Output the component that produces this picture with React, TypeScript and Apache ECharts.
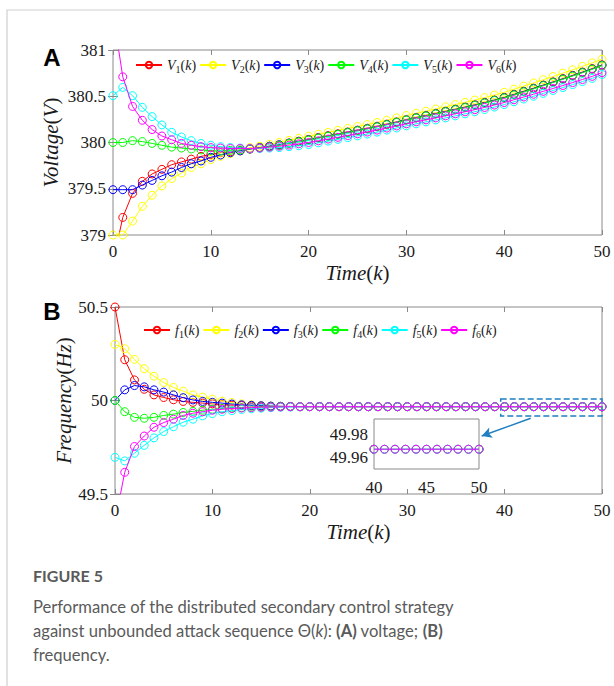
import React, { useEffect, useRef } from "react";
import * as echarts from "echarts";

// ---------- data ----------
const K = Array.from({ length: 51 }, (_, i) => i);
const INSET_K = K.slice(40);

const V_NAMES = ["V1", "V2", "V3", "V4", "V5", "V6"];
const F_NAMES = ["f1", "f2", "f3", "f4", "f5", "f6"];
const COLORS = ["#FF0000", "#FFFF00", "#0000FF", "#00FF00", "#00FFFF", "#FF00FF"];

const V1 = [
  378.7, 379.19, 379.45, 379.58, 379.66, 379.71, 379.76, 379.79, 379.82, 379.85,
  379.87, 379.89, 379.9, 379.91, 379.93, 379.945, 379.96, 379.975, 379.995, 380.015,
  380.034, 380.054, 380.074, 380.094, 380.114, 380.134, 380.154, 380.176, 380.199, 380.224,
  380.249, 380.272, 380.294, 380.316, 380.339, 380.362, 380.385, 380.409, 380.434, 380.461,
  380.489, 380.522, 380.555, 380.588, 380.622, 380.656, 380.691, 380.726, 380.762, 380.799,
  380.839,
];
const V2 = [
  379.0, 379.0, 379.15, 379.31, 379.43, 379.53, 379.61, 379.67, 379.73, 379.77,
  379.815, 379.85, 379.88, 379.91, 379.945, 379.96, 379.98, 380.0, 380.023, 380.045,
  380.068, 380.089, 380.11, 380.131, 380.152, 380.173, 380.194, 380.217, 380.241, 380.266,
  380.292, 380.316, 380.339, 380.362, 380.386, 380.41, 380.434, 380.459, 380.485, 380.513,
  380.542, 380.576, 380.61, 380.644, 380.679, 380.714, 380.75, 380.786, 380.823, 380.861,
  380.9,
];
const V3 = [
  379.49, 379.49, 379.49, 379.54, 379.59, 379.64, 379.68, 379.73, 379.77, 379.8,
  379.84, 379.865, 379.89, 379.91, 379.93, 379.945, 379.96, 379.975, 379.993, 380.011,
  380.03, 380.05, 380.07, 380.09, 380.11, 380.13, 380.15, 380.172, 380.195, 380.22,
  380.245, 380.268, 380.29, 380.312, 380.335, 380.358, 380.381, 380.405, 380.43, 380.457,
  380.485, 380.518, 380.551, 380.584, 380.618, 380.652, 380.687, 380.722, 380.758, 380.795,
  380.835,
];
const V4 = [
  380.0, 380.0, 380.02, 380.01, 379.99, 379.97, 379.95, 379.94, 379.93, 379.92,
  379.91, 379.91, 379.915, 379.92, 379.93, 379.942, 379.955, 379.97, 379.99, 380.008,
  380.027, 380.047, 380.067, 380.087, 380.107, 380.127, 380.147, 380.169, 380.192, 380.217,
  380.242, 380.265, 380.287, 380.309, 380.332, 380.355, 380.378, 380.402, 380.427, 380.454,
  380.482, 380.515, 380.548, 380.581, 380.615, 380.649, 380.684, 380.719, 380.755, 380.792,
  380.832,
];
const V5 = [
  380.506, 380.596, 380.506, 380.38, 380.28, 380.19, 380.11, 380.06, 380.02, 379.99,
  379.97, 379.955, 379.945, 379.94, 379.935, 379.935, 379.94, 379.945, 379.955, 379.965,
  379.978, 379.996, 380.015, 380.034, 380.053, 380.072, 380.091, 380.112, 380.134, 380.157,
  380.18, 380.202, 380.223, 380.244, 380.266, 380.288, 380.31, 380.333, 380.357, 380.383,
  380.41, 380.44, 380.47, 380.5, 380.531, 380.562, 380.594, 380.626, 380.659, 380.693,
  380.735,
];
const V6 = [
  381.4, 380.71, 380.39, 380.24, 380.14, 380.07, 380.03, 379.99, 379.97, 379.955,
  379.945, 379.94, 379.935, 379.935, 379.935, 379.94, 379.95, 379.96, 379.972, 379.986,
  380.0, 380.018, 380.037, 380.056, 380.075, 380.094, 380.113, 380.134, 380.156, 380.179,
  380.202, 380.224, 380.245, 380.266, 380.288, 380.31, 380.332, 380.355, 380.379, 380.405,
  380.432, 380.462, 380.492, 380.522, 380.553, 380.584, 380.616, 380.648, 380.681, 380.715,
  380.755,
];

const F1 = [
  50.5, 50.218, 50.11, 50.06, 50.03, 50.016, 50.004, 49.995, 49.99, 49.986,
  49.982, 49.978, 49.975, 49.973, 49.971, 49.97, 49.969, 49.968, 49.968, 49.967,
  49.967, 49.967, 49.967, 49.967, 49.967, 49.967, 49.967, 49.967, 49.967, 49.967,
  49.967, 49.967, 49.967, 49.967, 49.967, 49.967, 49.967, 49.967, 49.967, 49.967,
  49.967, 49.967, 49.967, 49.967, 49.967, 49.967, 49.967, 49.967, 49.967, 49.967,
  49.967,
];
const F2 = [
  50.3, 50.277, 50.22, 50.17, 50.13, 50.096, 50.07, 50.05, 50.03, 50.018,
  50.007, 49.997, 49.989, 49.982, 49.977, 49.973, 49.97, 49.969, 49.968, 49.967,
  49.967, 49.967, 49.967, 49.967, 49.967, 49.967, 49.967, 49.967, 49.967, 49.967,
  49.967, 49.967, 49.967, 49.967, 49.967, 49.967, 49.967, 49.967, 49.967, 49.967,
  49.967, 49.967, 49.967, 49.967, 49.967, 49.967, 49.967, 49.967, 49.967, 49.967,
  49.967,
];
const F3 = [
  50.0, 50.057, 50.08, 50.073, 50.057, 50.045, 50.03, 50.015, 50.003, 49.995,
  49.99, 49.986, 49.981, 49.977, 49.974, 49.972, 49.97, 49.969, 49.968, 49.967,
  49.967, 49.967, 49.967, 49.967, 49.967, 49.967, 49.967, 49.967, 49.967, 49.967,
  49.967, 49.967, 49.967, 49.967, 49.967, 49.967, 49.967, 49.967, 49.967, 49.967,
  49.967, 49.967, 49.967, 49.967, 49.967, 49.967, 49.967, 49.967, 49.967, 49.967,
  49.967,
];
const F4 = [
  50.0, 49.94, 49.91, 49.905, 49.91, 49.92, 49.927, 49.936, 49.942, 49.948,
  49.953, 49.957, 49.96, 49.962, 49.964, 49.965, 49.966, 49.967, 49.967, 49.967,
  49.967, 49.967, 49.967, 49.967, 49.967, 49.967, 49.967, 49.967, 49.967, 49.967,
  49.967, 49.967, 49.967, 49.967, 49.967, 49.967, 49.967, 49.967, 49.967, 49.967,
  49.967, 49.967, 49.967, 49.967, 49.967, 49.967, 49.967, 49.967, 49.967, 49.967,
  49.967,
];
const F5 = [
  49.696, 49.677, 49.718, 49.76, 49.8, 49.834, 49.86, 49.884, 49.9, 49.918,
  49.93, 49.94, 49.946, 49.952, 49.956, 49.959, 49.962, 49.964, 49.965, 49.966,
  49.967, 49.967, 49.967, 49.967, 49.967, 49.967, 49.967, 49.967, 49.967, 49.967,
  49.967, 49.967, 49.967, 49.967, 49.967, 49.967, 49.967, 49.967, 49.967, 49.967,
  49.967, 49.967, 49.967, 49.967, 49.967, 49.967, 49.967, 49.967, 49.967, 49.967,
  49.967,
];
const F6 = [
  49.35, 49.616, 49.754, 49.81, 49.857, 49.882, 49.9, 49.92, 49.932, 49.94,
  49.948, 49.953, 49.957, 49.96, 49.962, 49.964, 49.965, 49.966, 49.967, 49.967,
  49.967, 49.967, 49.967, 49.967, 49.967, 49.967, 49.967, 49.967, 49.967, 49.967,
  49.967, 49.967, 49.967, 49.967, 49.967, 49.967, 49.967, 49.967, 49.967, 49.967,
  49.967, 49.967, 49.967, 49.967, 49.967, 49.967, 49.967, 49.967, 49.967, 49.967,
  49.967,
];

const V_DATA = [V1, V2, V3, V4, V5, V6];
const F_DATA = [F1, F2, F3, F4, F5, F6];

const V_TICKS = { min: 379, max: 381, interval: 0.5 };
const F_TICKS = { min: 49.5, max: 50.5, interval: 0.5 };
const K_TICKS = { min: 0, max: 50, interval: 10 };
const INSET_X = { min: 40, max: 50, interval: 5 };
const INSET_Y = { min: 49.95, max: 49.993, labels: [49.96, 49.98] };

// zoom box and arrow (data coordinates of panel B)
const ZOOM_BOX = [[39.6, 50.008], [50, 49.917]];
const ARROW = [[42.68, 49.905], [37.65, 49.81]];

// ---------- styling ----------
const AX = "#8a8a8a";
const SERIF = "'Liberation Serif', 'Times New Roman', serif";
const TXT = "#1a1a1a";
const ANNOT = "#1f7fc0";
const CAP = "#5a5a5a";

const richMath = {
  i: { fontFamily: SERIF, fontStyle: "italic", fontSize: 21, color: TXT },
  n: { fontFamily: SERIF, fontStyle: "normal", fontSize: 21, color: TXT },
};
const richLegend = {
  i: { fontFamily: SERIF, fontStyle: "italic", fontSize: 14, color: TXT, lineHeight: 18 },
  n: { fontFamily: SERIF, fontStyle: "normal", fontSize: 14, color: TXT, lineHeight: 18 },
  s: { fontFamily: SERIF, fontStyle: "normal", fontSize: 10, color: TXT, lineHeight: 10, verticalAlign: "bottom" },
};
const tickLabel = { fontFamily: SERIF, fontSize: 17, color: TXT };

function mainX(gridIndex: number) {
  return [
    {
      type: "value", gridIndex, ...K_TICKS,
      axisLine: { show: false },
      axisTick: { show: true, inside: true, length: 5, lineStyle: { color: AX } },
      axisLabel: { ...tickLabel, margin: 8 },
      splitLine: { show: false },
      name: "{i|Time}{n|(}{i|k}{n|)}",
      nameLocation: "middle", nameGap: 27, nameMoveOverlap: false,
      nameTextStyle: { fontFamily: SERIF, fontSize: 21, rich: richMath },
    },
    {
      type: "value", gridIndex, ...K_TICKS, position: "top",
      axisLine: { show: false },
      axisTick: { show: true, inside: true, length: 5, lineStyle: { color: AX } },
      axisLabel: { show: false }, splitLine: { show: false },
    },
  ];
}
function mainY(gridIndex: number, ticks: any, name: string, gap: number) {
  return [
    {
      type: "value", gridIndex, ...ticks,
      axisLine: { show: false },
      axisTick: { show: true, inside: true, length: 5, lineStyle: { color: AX } },
      axisLabel: { ...tickLabel, margin: 7 },
      splitLine: { show: false },
      name, nameLocation: "middle", nameGap: gap, nameRotate: 90, nameMoveOverlap: false,
      nameTextStyle: { fontFamily: SERIF, fontSize: 21, rich: richMath },
    },
    {
      type: "value", gridIndex, ...ticks, position: "right",
      axisLine: { show: false },
      axisTick: { show: true, inside: true, length: 5, lineStyle: { color: AX } },
      axisLabel: { show: false }, splitLine: { show: false },
    },
  ];
}

function lineSeries(name: string, xs: number[], ys: number[], color: string, xi: number, yi: number, z: number) {
  return {
    type: "line", name, xAxisIndex: xi, yAxisIndex: yi, z,
    data: ys.map((v, i) => [xs[i], v]),
    symbol: "circle", symbolSize: 8, showSymbol: true, clip: true,
    lineStyle: { color, width: 1 },
    itemStyle: { color: "rgba(255,255,255,0)", borderColor: color, borderWidth: 1 },
    emphasis: { disabled: true },
    silent: true,
  };
}

function legendFormatter(name: string) {
  return `{i|${name[0]}}{s|${name[1]}}{n|(}{i|k}{n|)}`;
}

export default function App() {
  const ref = useRef<HTMLDivElement>(null);
  useEffect(() => {
    if (!ref.current) return;
    const chart = echarts.init(ref.current, null, { renderer: "svg" });

    const series: any[] = [];
    V_DATA.forEach((d, i) => series.push(lineSeries(V_NAMES[i], K, d, COLORS[i], 0, 0, 2 + i)));
    F_DATA.forEach((d, i) => series.push(lineSeries(F_NAMES[i], K, d, COLORS[i], 2, 2, 2 + i)));
    F_DATA.forEach((d, i) => series.push(lineSeries(F_NAMES[i] + "_inset", INSET_K, d.slice(40), COLORS[i], 4, 4, 2 + i)));

    series[11].markArea = {
      silent: true,
      itemStyle: { color: "rgba(0,0,0,0)", borderColor: ANNOT, borderWidth: 1.5, borderType: "dashed" },
      label: { show: false },
      data: [[{ coord: ZOOM_BOX[0] }, { coord: ZOOM_BOX[1] }]],
    };
    series[11].markLine = {
      silent: true,
      symbol: ["none", "arrow"], symbolSize: [8, 10],
      lineStyle: { color: ANNOT, width: 1.5, type: "solid" },
      label: { show: false },
      data: [[{ coord: ARROW[0] }, { coord: ARROW[1] }]],
    };

    const legendCommon = {
      itemWidth: 26, itemHeight: 8, itemGap: 3, padding: 0,
      selectedMode: false,
      formatter: legendFormatter,
      textStyle: { fontFamily: SERIF, fontSize: 14, rich: richLegend },
    };

    const option: any = {
      animation: false,
      color: COLORS,
      textStyle: { fontFamily: SERIF },
      grid: [
        { left: 113, top: 50, width: 489, height: 185, show: true, borderColor: AX, borderWidth: 1, backgroundColor: "#fff" },
        { left: 115, top: 307, width: 487, height: 187, show: true, borderColor: AX, borderWidth: 1, backgroundColor: "#fff" },
        { left: 374, top: 419, width: 105, height: 50, show: true, borderColor: AX, borderWidth: 1, backgroundColor: "#fff", z: 5 },
      ],
      xAxis: [
        ...mainX(0),
        ...mainX(1),
        {
          type: "value", gridIndex: 2, ...INSET_X,
          axisLine: { show: false }, axisTick: { show: false },
          axisLabel: { ...tickLabel, margin: 10 },
          splitLine: { show: false },
        },
      ],
      yAxis: [
        ...mainY(0, V_TICKS, "{i|Voltage}{n|(}{i|V}{n|)}", 52),
        ...mainY(1, F_TICKS, "{i|Frequency}{n|(}{i|Hz}{n|)}", 41),
        {
          type: "value", gridIndex: 2, min: INSET_Y.min, max: INSET_Y.max,
          axisLine: { show: false }, axisTick: { show: false },
          axisLabel: {
            ...tickLabel, margin: 6,
            customValues: INSET_Y.labels,
            formatter: (v: number) => v.toFixed(2),
          },
          splitLine: { show: false },
        },
      ],
      legend: [
        { ...legendCommon, data: V_NAMES, left: 135, top: 58 },
        { ...legendCommon, data: F_NAMES, left: 143, top: 323 },
      ],
      series,
      graphic: [
        { type: "rect", shape: { x: 7, y: 10, width: 640, height: 700 }, style: { fill: "none", stroke: "#cfcfcf", lineWidth: 1.2 }, silent: true, z: -1 },
        { type: "text", x: 52, y: 57, style: { text: "A", font: 'bold 24px "Liberation Sans"', fill: "#000", align: "center", verticalAlign: "middle" } },
        { type: "text", x: 52, y: 311, style: { text: "B", font: 'bold 24px "Liberation Sans"', fill: "#000", align: "center", verticalAlign: "middle" } },
        { type: "text", x: 33, y: 575, style: { text: "FIGURE 5", font: 'bold 16px Lato', fill: CAP, verticalAlign: "middle" } },
        { type: "text", x: 33, y: 607, style: { text: "Performance of the distributed secondary control strategy", font: '16.6px Lato', fill: CAP, verticalAlign: "middle" } },
        {
          type: "text", x: 33, y: 631,
          style: {
            text: "{r|against unbounded attack sequence Θ(}{it|k}{r|): }{b|(A)}{r| voltage; }{b|(B)}",
            verticalAlign: "middle",
            rich: {
              r: { font: '16.6px Lato', fill: CAP },
              it: { font: 'italic 16.6px Lato', fill: CAP },
              b: { font: 'bold 16.6px Lato', fill: CAP },
            },
          },
        },
        { type: "text", x: 33, y: 655, style: { text: "frequency.", font: '16.6px Lato', fill: CAP, verticalAlign: "middle" } },
      ],
    };
    chart.setOption(option);
    return () => chart.dispose();
  }, []);
  return <div ref={ref} style={{ position: "absolute", left: 0, top: 0, width: 614, height: 686 }} />;
}
